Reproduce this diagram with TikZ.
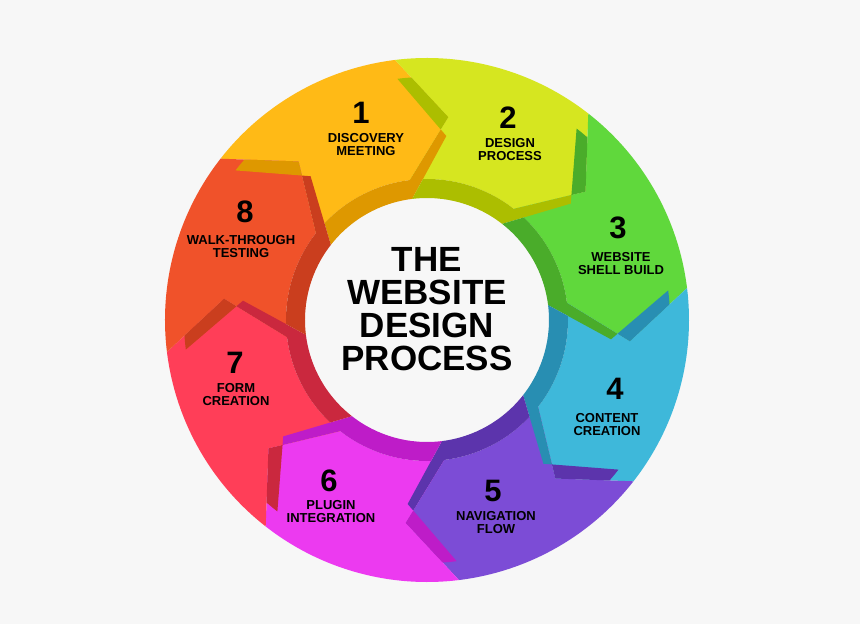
\documentclass[tikz,border=0pt]{standalone}
\usepackage{fontspec}
\setmainfont{Liberation Sans}
\definecolor{bg}{RGB}{247,247,247}
\definecolor{top1}{RGB}{255,186,22}
\definecolor{top2}{RGB}{214,230,32}
\definecolor{top3}{RGB}{96,216,60}
\definecolor{top4}{RGB}{62,184,218}
\definecolor{top5}{RGB}{124,76,214}
\definecolor{top6}{RGB}{236,58,240}
\definecolor{top7}{RGB}{255,62,88}
\definecolor{top8}{RGB}{240,82,42}
\definecolor{side1}{RGB}{222,152,0}
\definecolor{side2}{RGB}{172,190,0}
\definecolor{side3}{RGB}{74,172,42}
\definecolor{side4}{RGB}{40,142,178}
\definecolor{side5}{RGB}{92,52,172}
\definecolor{side6}{RGB}{190,28,200}
\definecolor{side7}{RGB}{202,40,62}
\definecolor{side8}{RGB}{202,62,30}

\begin{document}
\begin{tikzpicture}[x=1pt,y=1pt,
    num/.style={font=\bfseries\fontsize{31}{31}\selectfont},
    lbl/.style={align=center,font=\bfseries\fontsize{13}{13}\selectfont},
    title/.style={align=center,font=\bfseries\fontsize{35}{33}\selectfont}]
  \fill[bg] (-427,-304) rectangle (433,320);
  % top faces of the eight arrows
  \foreach \k in {1,...,8}{
    \pgfmathsetmacro{\a}{187-45*\k}
    \fill[top\k] (\a:262) arc[start angle=\a, end angle=\a-45, radius=262]
      -- ({\a-58}:204) -- ({\a-45}:141)
      arc[start angle=\a-45, end angle=\a, radius=141]
      -- ({\a-13}:204) -- cycle;
  }
  % side faces, outside of each top face
  \foreach \k in {1,...,8}{
    \pgfmathsetmacro{\a}{187-45*\k}
    \begin{scope}[even odd rule]
      \clip (-427,-304) rectangle (433,320)
        (\a:262) arc[start angle=\a, end angle=\a-45, radius=262]
        -- ({\a-58}:204) -- ({\a-45}:141)
        arc[start angle=\a-45, end angle=\a, radius=141]
        -- ({\a-13}:204) -- cycle;
      \fill[side\k] (\a:243) arc[start angle=\a, end angle=\a-45, radius=243]
        -- ({\a-58}:185) -- ({\a-45}:122)
        arc[start angle=\a-45, end angle=\a, radius=122]
        -- ({\a-13}:185) -- cycle;
    \end{scope}
  }
  \node[title] (title) at (0,11) {THE\\WEBSITE\\DESIGN\\PROCESS};
  \foreach \n/\nx/\ny/\tx/\ty/\txt in {
      1/-66/207/-61/175.5/{DISCOVERY\\MEETING},
      2/81/202/83/170/{DESIGN\\PROCESS},
      3/191/92/194/56/{WEBSITE\\SHELL BUILD},
      4/188/-69/180/-105/{CONTENT\\CREATION},
      5/66/-171/69/-203/{NAVIGATION\\FLOW},
      6/-98/-161/-96/-191.5/{PLUGIN\\INTEGRATION},
      7/-192/-43/-191/-75/{FORM\\CREATION},
      8/-182/108/-186/73.5/{WALK-THROUGH\\TESTING}}{
    \node[num] (n\n) at (\nx,\ny) {\n};
    \node[lbl] (l\n) at (\tx,\ty) {\txt};
  }
\end{tikzpicture}
\end{document}
